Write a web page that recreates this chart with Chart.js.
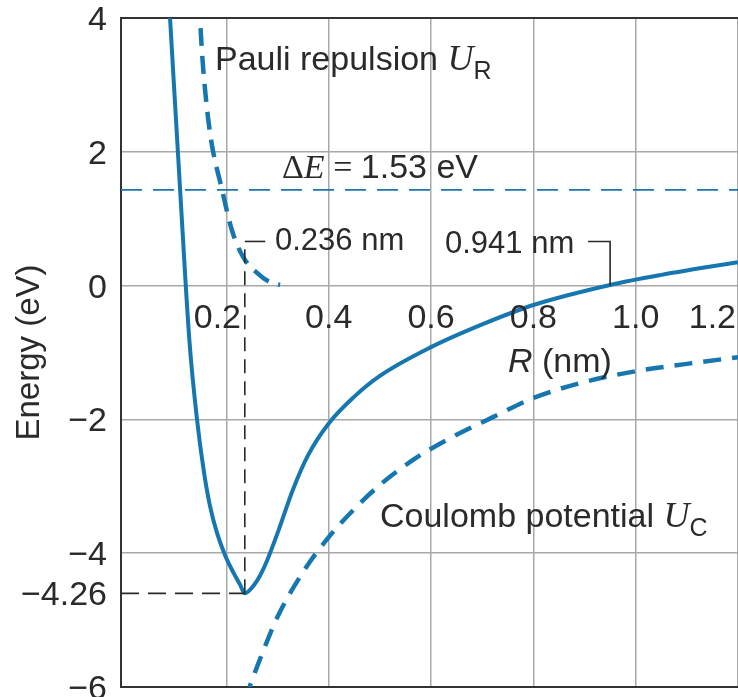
<!DOCTYPE html>
<html>
<head>
<meta charset="utf-8">
<script src="https://cdn.jsdelivr.net/npm/chart.js@4"></script>
<style>
  html, body { margin: 0; padding: 0; background: #fff; overflow: hidden; }
  #wrap { width: 738px; height: 697px; }
</style>
</head>
<body>
<div id="wrap"><canvas id="energyChart" width="738" height="697"></canvas></div>
<script>
// --- Data (R in nm, energy in eV) ---
const xMin = -0.006, xMax = 1.2;
const xTicks = [0.2, 0.4, 0.6, 0.8, 1.0, 1.2];
const yTicks = [4, 2, 0, -2, -4, -6];

// total potential U(R), solid curve
const totalR = [0.087, 0.0899, 0.1095, 0.1276, 0.1421, 0.1564, 0.1681, 0.1818, 0.1974, 0.213, 0.2267, 0.236,
                0.247, 0.26, 0.27, 0.28, 0.30, 0.33, 0.36, 0.40, 0.45, 0.50, 0.60, 0.70, 0.80,
                0.95, 1.05, 1.20];
const totalU = [4.38, 3.99, 1.44, -0.81, -1.97, -2.80, -3.30, -3.70, -4.03, -4.28, -4.47, -4.60,
                -4.54, -4.41, -4.27, -4.10, -3.70, -3.05, -2.53, -2.06, -1.66, -1.35, -0.92, -0.58, -0.29,
                0.01, 0.16, 0.35];

// Pauli repulsion U_R, dashed
const pauliR = [0.1466, 0.1486, 0.1544, 0.1681, 0.1916, 0.2111, 0.2326, 0.260, 0.2854, 0.3049];
const pauliU = [4.27, 3.97, 3.27, 2.28, 1.43, 0.82, 0.43, 0.19, 0.05, 0.01];

// Coulomb potential U_C, dashed
const coulR = [0.236, 0.25, 0.27, 0.30, 0.35, 0.40, 0.45, 0.50, 0.57, 0.64, 0.72, 0.80, 0.90, 1.00, 1.10, 1.20];
const coulU = [-6.20, -5.90, -5.50, -4.95, -4.28, -3.76, -3.34, -2.98, -2.58, -2.27, -1.97, -1.68,
               -1.44, -1.28, -1.17, -1.07];

// marked values (drawn positions, with the printed labels)
const gapLevel = 1.43;        // ΔE line
const minR = 0.236;           // equilibrium separation
const minU = -4.60;           // depth of the minimum as drawn
const minLabel = '\u22124.26';
const zeroR = 0.950;          // where U crosses zero as drawn
const leaderU = 0.66;         // height of the label leaders

const BLUE = '#1677b0';
const INK = '#2a2a2a';
const SANS = '"Liberation Sans", Arial, sans-serif';
const SERIF = '"Liberation Serif", "Times New Roman", serif';

const pts = (xs, ys) => xs.map((r, i) => ({ x: r, y: ys[i] }));
const minus = v => (v < 0 ? '\u2212' + Math.abs(v) : String(v));

// --- text drawn on top of the chart ---
function drawRich(ctx, x, y, parts) {
    // parts: [text, font, dy]
    parts.forEach(([t, f, dy]) => {
        ctx.font = f;
        ctx.fillText(t, x, y + (dy || 0));
        x += ctx.measureText(t).width;
    });
}

const textPlugin = {
    id: 'figureText',
    afterDraw(chart) {
        const { ctx, chartArea } = chart;
        const x = chart.scales.x, y = chart.scales.y;
        ctx.save();
        ctx.fillStyle = INK;
        ctx.textBaseline = 'alphabetic';

        // y tick labels
        ctx.font = '34px ' + SANS;
        ctx.textAlign = 'right';
        yTicks.forEach(v => ctx.fillText(minus(v), 107, y.getPixelForValue(v) + 12));
        ctx.fillText(minLabel, 107, y.getPixelForValue(minU) + 12);

        // x tick labels sit just under the zero line
        const y0 = y.getPixelForValue(0);
        xTicks.forEach((v, i) => {
            let px = x.getPixelForValue(v);
            if (i === 0) px -= 9;
            if (i === xTicks.length - 1) {
                ctx.textAlign = 'right';
                ctx.fillText(v.toFixed(1), chartArea.right - 2, y0 + 42);
            } else {
                ctx.textAlign = 'center';
                ctx.fillText(v.toFixed(1), px, y0 + 42);
            }
        });

        // axis titles
        ctx.textAlign = 'left';
        drawRich(ctx, 508, 372, [['R', 'italic 34px ' + SANS], [' (nm)', '34px ' + SANS]]);

        ctx.save();
        ctx.translate(39, (chartArea.top + chartArea.bottom) / 2);
        ctx.rotate(-Math.PI / 2);
        ctx.textAlign = 'center';
        ctx.font = '33px ' + SANS;
        ctx.fillText('Energy (eV)', 0, 0);
        ctx.restore();

        // curve labels
        ctx.textAlign = 'left';
        drawRich(ctx, 215, 70, [
            ['Pauli repulsion ', '34px ' + SANS],
            ['U', 'italic 36px ' + SERIF],
            ['R', '25px ' + SANS, 9]
        ]);
        drawRich(ctx, 380, 527, [
            ['Coulomb potential ', '34px ' + SANS],
            ['U', 'italic 36px ' + SERIF],
            ['C', '25px ' + SANS, 9]
        ]);
        drawRich(ctx, 282, 178, [
            ['\u0394', '34px ' + SERIF],
            ['E', 'italic 34px ' + SERIF],
            [' = ', '34px ' + SERIF],
            ['1.53 eV', '34px ' + SANS]
        ]);

        // value labels
        ctx.font = '31px ' + SANS;
        ctx.fillText('0.236 nm', 275, 250);
        ctx.fillText('0.941 nm', 445, 253);
        ctx.restore();
    }
};

// --- chart ---
const line = (data, color, width, dash, smooth) => ({
    data,
    borderColor: color,
    borderWidth: width,
    borderDash: dash || [],
    pointRadius: 0,
    fill: false,
    cubicInterpolationMode: smooth ? 'monotone' : 'default'
});

const ctx = document.getElementById('energyChart').getContext('2d');
new Chart(ctx, {
    type: 'line',
    data: {
        datasets: [
            // guides to the minimum
            line([{ x: xMin, y: minU }, { x: minR, y: minU }], INK, 1.6, [18, 9]),
            line([{ x: minR, y: minU }, { x: minR, y: leaderU }], INK, 1.6, [14, 8]),
            line([{ x: minR, y: leaderU }, { x: minR + 0.04, y: leaderU }], INK, 1.6),
            // leader to the zero crossing
            line([{ x: zeroR - 0.043, y: leaderU }, { x: zeroR, y: leaderU }, { x: zeroR, y: 0 }], INK, 1.6),
            // ΔE level
            line([{ x: xMin, y: gapLevel }, { x: xMax, y: gapLevel }], BLUE, 1.8, [21, 11]),
            // curves
            line(pts(coulR, coulU), BLUE, 4.5, [18, 11], true),
            line(pts(pauliR, pauliU), BLUE, 4.5, [18, 10], true),
            line(pts(totalR, totalU), BLUE, 4, [], true)
        ]
    },
    options: {
        responsive: false,
        animation: false,
        events: [],
        layout: { padding: { top: 18, right: 0, bottom: 0, left: 0 } },
        plugins: {
            legend: { display: false },
            tooltip: { enabled: false }
        },
        scales: {
            x: {
                type: 'linear',
                min: xMin,
                max: xMax,
                afterBuildTicks: s => { s.ticks = [0].concat(xTicks).map(v => ({ value: v })); },
                ticks: { display: false },
                grid: {
                    color: c => (c.tick && c.tick.value === 0 ? 'rgba(0,0,0,0)' : '#a8a8a8'),
                    lineWidth: 1.5,
                    drawTicks: false
                },
                border: { display: true, color: '#333', width: 2 },
                afterFit: s => { s.height = 10; }
            },
            y: {
                type: 'linear',
                min: -6,
                max: 4,
                ticks: { display: false, stepSize: 2 },
                grid: {
                    color: c => (c.tick && c.tick.value === 4 ? '#333' : '#a8a8a8'),
                    lineWidth: c => (c.tick && c.tick.value === 4 ? 2 : 1.5),
                    drawTicks: false
                },
                border: { display: true, color: '#333', width: 2 },
                afterFit: s => { s.width = 121; }
            }
        }
    },
    plugins: [textPlugin]
});
</script>
</body>
</html>
